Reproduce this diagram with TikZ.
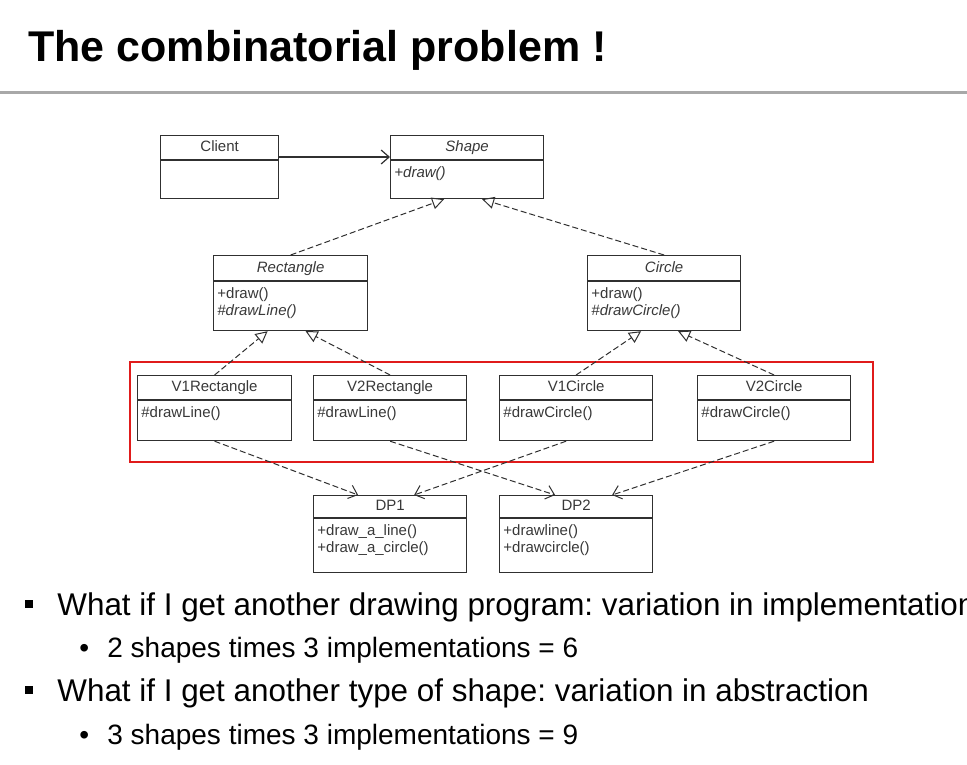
\documentclass[tikz,border=0pt]{standalone}
\usepackage{fontspec}
\setmainfont{Liberation Sans}
\usepackage{tikz}
\usetikzlibrary{arrows.meta,calc}
\frenchspacing
\definecolor{UMLLine}{HTML}{303030}
\definecolor{UMLText}{HTML}{383838}
\definecolor{MarkRed}{HTML}{E01B1B}
\definecolor{RuleGray}{HTML}{A8A8A8}

\tikzset{
  classbox/.style={draw=UMLLine,line width=0.6pt,anchor=north west,inner sep=0pt},
  classtitle/.style={font=\fontsize{7.5}{8.5}\selectfont,text=UMLText,inner sep=0pt,text height=5.4pt,text depth=1.2pt},
  classbody/.style={font=\fontsize{7.5}{8.5}\selectfont,text=UMLText,anchor=north west,align=left,inner xsep=2pt,inner ysep=3pt},
  inherits/.style={draw=UMLLine,line width=0.5pt,dash pattern=on 3pt off 1.5pt,-{Triangle[open,length=6pt,width=6pt]}},
  uses/.style={draw=UMLLine,line width=0.5pt,dash pattern=on 3pt off 1.5pt,-{Straight Barb[length=4pt,width=7pt]}},
  navigates/.style={draw=UMLLine,line width=0.6pt,-{Straight Barb[length=4pt,width=7pt]}},
  bulletsq/.style={fill=black,minimum size=4pt,inner sep=0pt},
  bullettext/.style={anchor=base west,inner sep=0pt,font=\fontsize{15.7}{19}\selectfont},
  subtext/.style={anchor=base west,inner sep=0pt,font=\fontsize{14}{17}\selectfont},
}

\newcommand{\umlclass}[8]{%
  \node[classbox,minimum width=#4*0.5pt,minimum height=#5*0.5pt] (#1) at (#2,#3) {};
  \draw[UMLLine,line width=0.6pt] ([yshift=-#6*0.5pt]#1.north west) -- ([yshift=-#6*0.5pt]#1.north east);
  \node[classtitle] (#1-title) at ([yshift=-#6*0.25pt]#1.north) {#7};
  \node[classbody] (#1-body) at ([yshift=-#6*0.5pt]#1.north west) {#8};
}

\begin{document}
\begin{tikzpicture}[x=0.5pt,y=-0.5pt]
\path[use as bounding box] (0,0) rectangle (967,764);
\node[anchor=base west,inner sep=0pt,font=\fontsize{21.5}{26}\bfseries\selectfont] (title) at (28,62) {The combinatorial problem !};
\draw[RuleGray,line width=1.5pt] (0,93) -- (967,93);

\umlclass{client}{160}{135}{118}{63}{25}{Client}{}
\umlclass{shape}{390}{135}{153}{63}{25}{\itshape Shape}{\itshape +draw()}
\umlclass{rectabs}{213}{255}{154}{75}{26}{\itshape Rectangle}{+draw()\\\itshape \#drawLine()}
\umlclass{circleabs}{587}{255}{153}{75}{26}{\itshape Circle}{+draw()\\\itshape \#drawCircle()}
\umlclass{vonerect}{137}{375}{154}{65}{25}{V1Rectangle}{\#drawLine()}
\umlclass{vtworect}{313}{375}{153}{65}{25}{V2Rectangle}{\#drawLine()}
\umlclass{vonecirc}{499}{375}{153}{65}{25}{V1Circle}{\#drawCircle()}
\umlclass{vtwocirc}{697}{375}{153}{65}{25}{V2Circle}{\#drawCircle()}
\umlclass{dpone}{313}{495}{153}{77}{23}{DP1}{+draw\_a\_line()\\+draw\_a\_circle()}
\umlclass{dptwo}{499}{495}{153}{77}{23}{DP2}{+drawline()\\+drawcircle()}

\draw[MarkRed,line width=1.3pt] (130,362) rectangle (873,462);

\draw[navigates] ($(client.north east)+(0,22)$) -- ($(shape.north west)+(0,22)$);
\draw[inherits] (rectabs.north) -- ($(shape.south)+(-23,0)$);
\draw[inherits] (circleabs.north) -- ($(shape.south)+(15,0)$);
\draw[inherits] (vonerect.north) -- ($(rectabs.south)+(-23,0)$);
\draw[inherits] (vtworect.north) -- ($(rectabs.south)+(15,0)$);
\draw[inherits] (vonecirc.north) -- ($(circleabs.south)+(-23,0)$);
\draw[inherits] (vtwocirc.north) -- ($(circleabs.south)+(14,0)$);
\draw[uses] (vonerect.south) -- ($(dpone.north)+(-32,0)$);
\draw[uses] ($(vonecirc.south)+(-10,0)$) -- ($(dpone.north)+(24,0)$);
\draw[uses] (vtworect.south) -- ($(dptwo.north)+(-21,0)$);
\draw[uses] (vtwocirc.south) -- ($(dptwo.north)+(36,0)$);

\node[bulletsq] (bulone) at (29,604) {};
\node[bullettext] (textone) at (57,615) {What if I get another drawing program: variation in implementation};
\node[subtext] (dotone) at (79,657) {\textbullet};
\node[subtext] (subone) at (107,657) {2 shapes times 3 implementations = 6};
\node[bulletsq] (bultwo) at (29,690) {};
\node[bullettext] (texttwo) at (57,701) {What if I get another type of shape: variation in abstraction};
\node[subtext] (dottwo) at (79,744) {\textbullet};
\node[subtext] (subtwo) at (107,744) {3 shapes times 3 implementations = 9};
\end{tikzpicture}
\end{document}
